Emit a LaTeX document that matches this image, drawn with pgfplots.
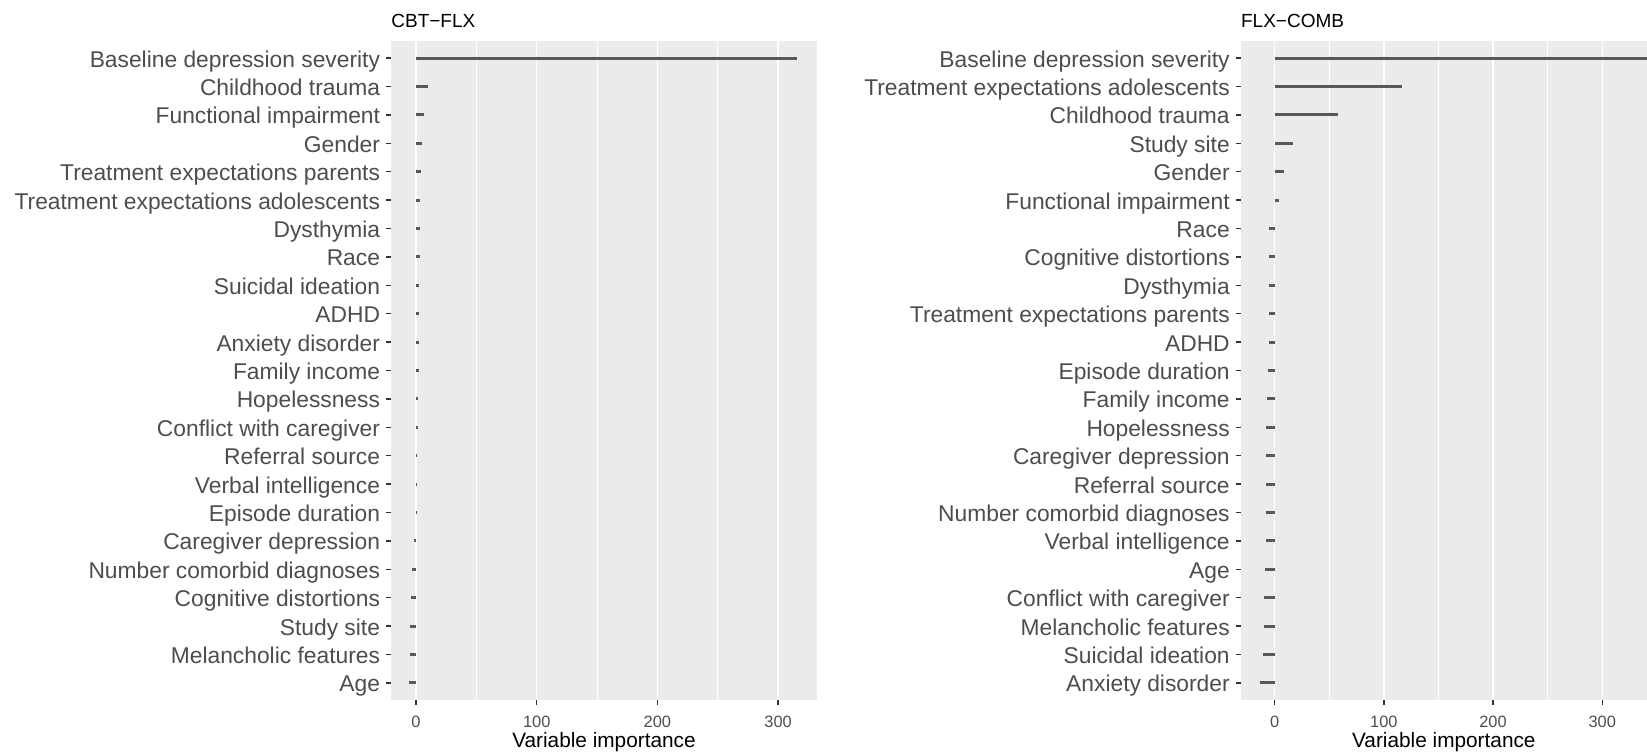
\documentclass[border=0pt]{standalone}
\usepackage{fontspec}
\setmainfont{Liberation Sans}
\usepackage{pgfplots}
\pgfplotsset{compat=1.18}
\definecolor{panelbg}{HTML}{EBEBEB}
\definecolor{barcol}{HTML}{595959}
\definecolor{labcol}{HTML}{4D4D4D}
\definecolor{tickcol}{HTML}{333333}
\pgfplotsset{
  ggpanel/.style={
    scale only axis,
    anchor=south west,
    height=329.5pt,
    y dir=reverse,
    ymin=-0.6, ymax=22.6,
    ytick={0,...,22},
    xtick={0,100,200,300},
    minor xtick={50,150,250},
    xmajorgrids, xminorgrids,
    major grid style={white, line width=0.7pt},
    minor grid style={white, line width=0.45pt},
    axis line style={draw=none},
    axis background/.style={fill=panelbg},
    tick align=outside,
    tick pos=left,
    major tick length=2.5pt,
    minor tick length=0pt,
    tick style={color=tickcol, line width=0.7pt},
    /pgf/number format/assume math mode=true,
    xticklabel style={font=\fontsize{8.2}{9}\selectfont, text=labcol, anchor=base, inner sep=0pt, yshift=-11.3pt},
    yticklabel style={font=\fontsize{11.4}{13}\selectfont, text=labcol, anchor=base east, inner sep=0pt, yshift=-4.5pt, xshift=-2.8pt},
    title style={font=\fontsize{9.5}{11}\selectfont, text=black, at={(rel axis cs:0,1)}, anchor=base west, inner sep=0pt, yshift=0.6pt},
    xlabel style={font=\fontsize{10.4}{12}\selectfont, text=black, at={(rel axis cs:0.5,0)}, anchor=base, inner sep=0pt, yshift=-23.85pt},
    xlabel={Variable importance},
    clip=true,
  }
}
\pgfplotstableread{
i v
0 315.4
1 9.7
2 6.9
3 5.2
4 3.9
5 3.5
6 3.0
7 3.0
8 2.5
9 2.5
10 2.2
11 2.2
12 1.9
13 1.4
14 0.6
15 0.4
16 0.3
17 -1.6
18 -3.0
19 -4.1
20 -4.6
21 -4.7
22 -5.5
}\cbtflx
\pgfplotstableread{
i v
0 360
1 116.5
2 58.3
3 16.5
4 8.5
5 4.0
6 -4.9
7 -5.2
8 -5.5
9 -5.5
10 -5.5
11 -6.4
12 -7.0
13 -7.9
14 -7.9
15 -7.9
16 -7.9
17 -7.9
18 -8.8
19 -9.5
20 -9.5
21 -10.4
22 -13.7
}\flxcomb
\begin{document}
\begin{tikzpicture}
\path[use as bounding box] (0,0) rectangle (823.5pt,376pt);
\begin{axis}[ggpanel,
  at={(195.5pt,26pt)},
  width=213pt,
  xmin=-20.7, xmax=332.2,
  title={CBT−FLX},
  yticklabels={{Baseline depression severity},{Childhood trauma},{Functional impairment},{Gender},{Treatment expectations parents},{Treatment expectations adolescents},{Dysthymia},{Race},{Suicidal ideation},{ADHD},{Anxiety disorder},{Family income},{Hopelessness},{Conflict with caregiver},{Referral source},{Verbal intelligence},{Episode duration},{Caregiver depression},{Number comorbid diagnoses},{Cognitive distortions},{Study site},{Melancholic features},{Age}},
]
\addplot[xcomb, barcol, line width=1.5pt, mark=none] table[x=v, y=i] {\cbtflx};
\end{axis}
\begin{axis}[ggpanel,
  at={(620.35pt,26pt)},
  width=203.15pt,
  xmin=-31.1, xmax=341,
  title={FLX−COMB},
  yticklabels={{Baseline depression severity},{Treatment expectations adolescents},{Childhood trauma},{Study site},{Gender},{Functional impairment},{Race},{Cognitive distortions},{Dysthymia},{Treatment expectations parents},{ADHD},{Episode duration},{Family income},{Hopelessness},{Caregiver depression},{Referral source},{Number comorbid diagnoses},{Verbal intelligence},{Age},{Conflict with caregiver},{Melancholic features},{Suicidal ideation},{Anxiety disorder}},
]
\addplot[xcomb, barcol, line width=1.5pt, mark=none] table[x=v, y=i] {\flxcomb};
\end{axis}
\end{tikzpicture}
\end{document}
